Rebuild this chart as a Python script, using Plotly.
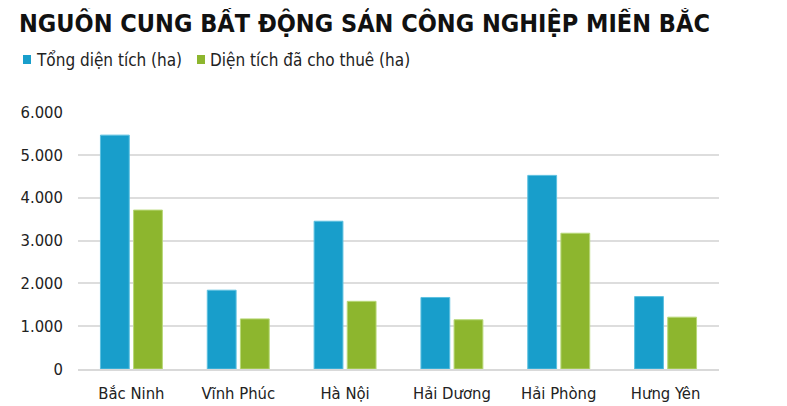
import plotly.graph_objects as go

categories = ["Bắc Ninh", "Vĩnh Phúc", "Hà Nội", "Hải Dương", "Hải Phòng", "Hưng Yên"]
tong_dien_tich = [5460, 1840, 3450, 1670, 4520, 1690]
da_cho_thue = [3710, 1170, 1580, 1150, 3170, 1210]
y_ticks = [0, 1000, 2000, 3000, 4000, 5000, 6000]
series_names = ["Tổng diện tích (ha)", "Diện tích đã cho thuê (ha)"]

BLUE = "#189ECB"
GREEN = "#8DB62E"
FONT = "DejaVu Sans Condensed, DejaVu Sans, sans-serif"

W, H = 787, 406
OFF = 8  # page body margin in the browser
# plot area in screen pixels
PL, PR, PT, PB = 78, 719, 112, 369
ML, MT = PL - OFF, PT - OFF
MR, MB = W - (PR - OFF), H - (PB - OFF)
PW, PH = PR - PL, PB - PT


def px_x(x):
    return (x - PL) / PW


def px_y(y):
    return (PB - y) / PH


fig = go.Figure()
fig.add_trace(go.Bar(
    name=series_names[0], x=categories, y=tong_dien_tich,
    marker=dict(color=BLUE, line=dict(color="#5CC0E0", width=1)),
))
fig.add_trace(go.Bar(
    name=series_names[1], x=categories, y=da_cho_thue,
    marker=dict(color=GREEN, line=dict(color="#B8D878", width=1)),
))

# custom legend (swatch + label), matching the reference placement
legend_items = [(series_names[0], BLUE, 23), (series_names[1], GREEN, 197)]
for name, color, sx in legend_items:
    fig.add_shape(
        type="rect", xref="paper", yref="paper",
        x0=px_x(sx), x1=px_x(sx + 8), y0=px_y(64), y1=px_y(55),
        fillcolor=color, line=dict(width=0),
    )
    fig.add_annotation(
        text=name, xref="paper", yref="paper",
        x=px_x(sx + 11), y=px_y(59.5), xanchor="left", yanchor="middle",
        showarrow=False, font=dict(family=FONT, size=17, color="#222222"),
    )

fig.update_layout(
    width=W, height=H,
    margin=dict(l=ML, r=MR, t=MT, b=MB),
    paper_bgcolor="white", plot_bgcolor="white",
    separators=",.",
    barmode="group", bargap=0.38, bargroupgap=0.13,
    font=dict(family=FONT, size=17, color="#222222"),
    title=dict(
        text="<b>NGUỒN CUNG BẤT ĐỘNG SẢN CÔNG NGHIỆP MIỀN BẮC</b>",
        font=dict(family="DejaVu Sans Condensed, DejaVu Sans, sans-serif", size=25, color="#111111"),
        x=11 / W, xanchor="left", xref="container",
        y=1 - 6 / H, yanchor="top", yref="container",
    ),
    showlegend=False,
)
fig.update_xaxes(
    automargin=False,
    showline=True, linecolor="#d9d9d9", linewidth=2,
    ticks="", ticklabelstandoff=8,
    tickfont=dict(family=FONT, size=16.5, color="#222222"),
)
fig.update_yaxes(
    automargin=False,
    range=[0, 6000], tickvals=y_ticks, tickformat=",d",
    showgrid=True, gridcolor="#dddddd", gridwidth=1.5,
    zeroline=False, showline=False, ticks="",
    ticklabelstandoff=14,
    tickfont=dict(family=FONT, size=16.5, color="#222222"),
)

fig.write_html("out.html")
